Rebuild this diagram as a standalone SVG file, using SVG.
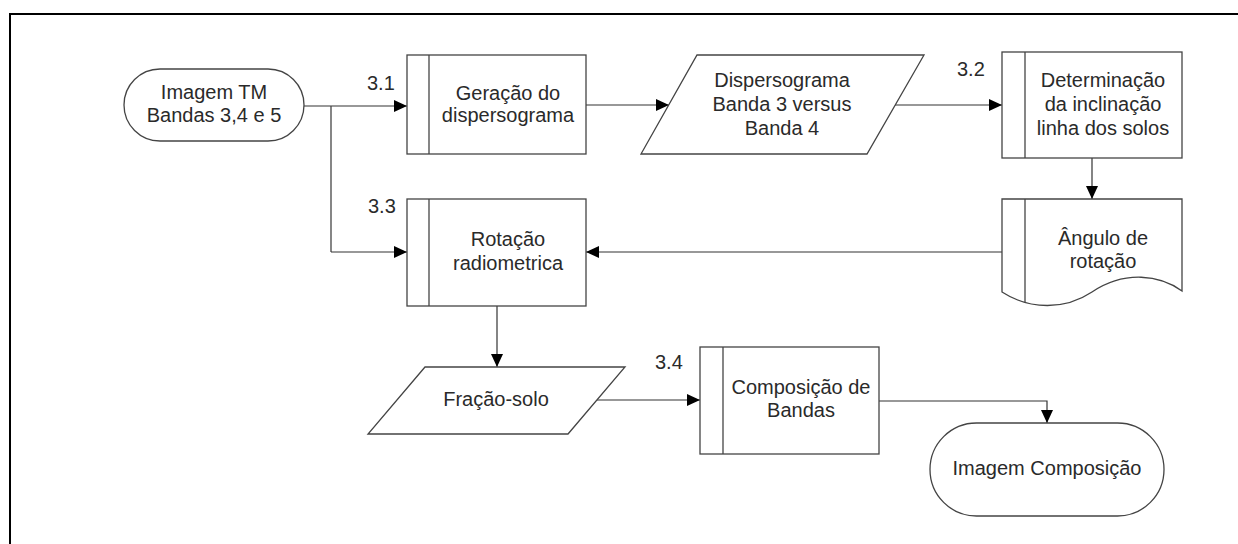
<svg xmlns="http://www.w3.org/2000/svg" width="1238" height="544" viewBox="0 0 1238 544">
<defs>
<marker id="arr" viewBox="0 0 13 12" refX="13" refY="6" markerWidth="13" markerHeight="12" markerUnits="userSpaceOnUse" orient="auto">
<path d="M0,0 L13,6 L0,12 Z" fill="#000"/>
</marker>
</defs>
<style>
.s{fill:#fff;stroke:#444;stroke-width:1.3}
.b{fill:none;stroke:#444;stroke-width:1.3}
.c{fill:none;stroke:#333;stroke-width:1.2;marker-end:url(#arr)}
text{font-family:"Liberation Sans",Arial,sans-serif;font-size:20px;fill:#2a2a2a}
.m{text-anchor:middle}
</style>
<rect width="1238" height="544" fill="#fff"/>
<path d="M10,544 V14 H1238" fill="none" stroke="#000" stroke-width="2"/>

<g id="connectors">
<path class="c" d="M304,106 H407"/>
<path class="b" d="M331,106 V252"/>
<path class="c" d="M331,252 H407"/>
<path class="c" d="M586,105 H669"/>
<path class="c" d="M895,105 H1002"/>
<path class="c" d="M1092,158 V199"/>
<path class="c" d="M1002,252 H586"/>
<path class="c" d="M497,306 V367"/>
<path class="c" d="M597,400 H700"/>
<path class="c" d="M879,401 H1047 V423"/>
</g>

<g id="n_imagem_tm">
<rect class="s" x="124" y="69" width="180" height="72" rx="36" ry="36"/>
<text class="m" x="214" y="99">Imagem TM</text>
<text class="m" x="214" y="122">Bandas 3,4 e 5</text>
</g>

<g id="n_3_1">
<text x="367" y="90">3.1</text>
<rect class="s" x="407" y="55" width="179" height="99"/>
<path class="b" d="M429,55 V154"/>
<text class="m" x="508" y="100">Geração do</text>
<text class="m" x="508" y="122">dispersograma</text>
</g>

<g id="n_dispersograma">
<path class="s" d="M697,55 H924 L867,154 H641 Z"/>
<text class="m" x="782" y="87">Dispersograma</text>
<text class="m" x="782" y="111">Banda 3 versus</text>
<text class="m" x="782" y="135">Banda 4</text>
</g>

<g id="n_3_2">
<text x="957" y="76">3.2</text>
<rect class="s" x="1002" y="52" width="180" height="106"/>
<path class="b" d="M1025,52 V158"/>
<text class="m" x="1103" y="87">Determinação</text>
<text class="m" x="1103" y="111">da inclinação</text>
<text class="m" x="1103" y="135">linha dos solos</text>
</g>

<g id="n_angulo">
<path class="s" d="M1002,199 H1182 V291 C1160,275 1125,270 1092,292 C1065,310 1030,310 1002,292 Z"/>
<path class="b" d="M1025,199 V302"/>
<text class="m" x="1103" y="245">Ângulo de</text>
<text class="m" x="1103" y="268">rotação</text>
</g>

<g id="n_3_3">
<text x="368" y="213">3.3</text>
<rect class="s" x="407" y="199" width="179" height="107"/>
<path class="b" d="M429,199 V306"/>
<text class="m" x="508" y="246">Rotação</text>
<text class="m" x="508" y="270">radiometrica</text>
</g>

<g id="n_fracao">
<path class="s" d="M425,367 H625 L568,434 H368 Z"/>
<text class="m" x="496" y="406">Fração-solo</text>
</g>

<g id="n_3_4">
<text x="655" y="369">3.4</text>
<rect class="s" x="700" y="347" width="179" height="107"/>
<path class="b" d="M723,347 V454"/>
<text class="m" x="801" y="394">Composição de</text>
<text class="m" x="801" y="417">Bandas</text>
</g>

<g id="n_imagem_comp">
<rect class="s" x="930" y="423" width="234" height="93" rx="46.5" ry="46.5"/>
<text class="m" x="1047" y="475">Imagem Composição</text>
</g>
</svg>
